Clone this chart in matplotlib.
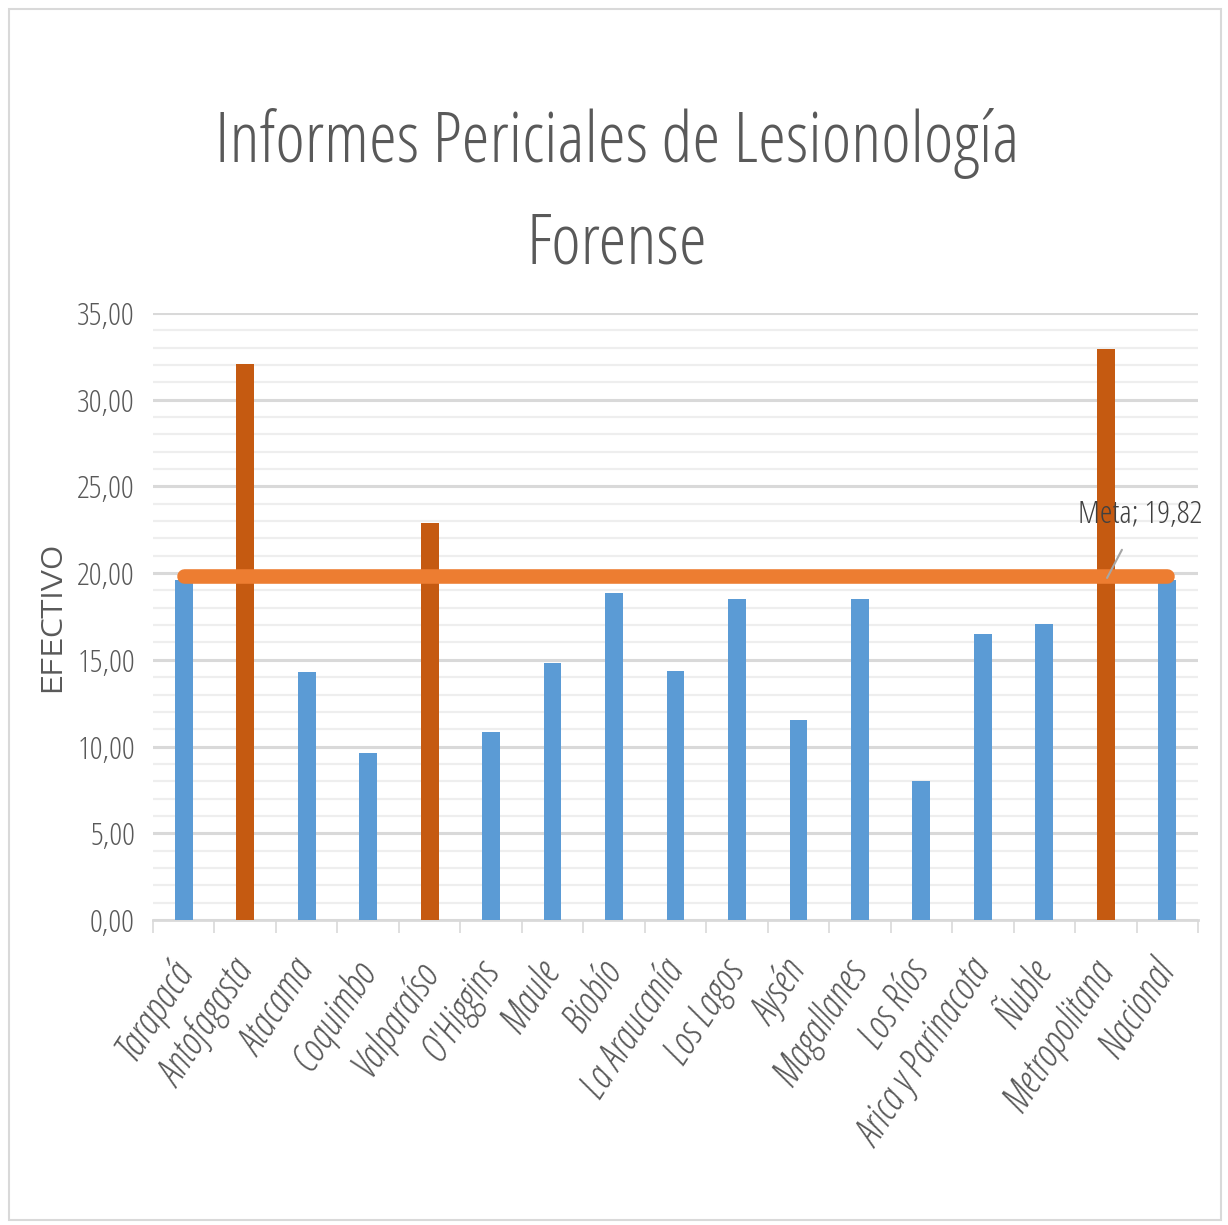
import matplotlib
matplotlib.use("Agg")
import matplotlib.pyplot as plt
from matplotlib.ticker import MultipleLocator, FixedLocator
from matplotlib.patches import Rectangle
import numpy as np

categories = ["Tarapacá", "Antofagasta", "Atacama", "Coquimbo", "Valparaíso", "O'Higgins",
              "Maule", "Biobío", "La Araucanía", "Los Lagos", "Aysén", "Magallanes",
              "Los Ríos", "Arica y Parinacota", "Ñuble", "Metropolitana", "Nacional"]
values = [19.6, 32.05, 14.3, 9.6, 22.9, 10.85, 14.8, 18.85, 14.35, 18.5, 11.55, 18.5,
          8.0, 16.5, 17.05, 32.9, 19.6]
meta_value = 19.82
yticks = [0, 5, 10, 15, 20, 25, 30, 35]
ytick_labels = ["0,00", "5,00", "10,00", "15,00", "20,00", "25,00", "30,00", "35,00"]

BLUE = "#5B9BD5"
DARK_ORANGE = "#C55A11"
ORANGE = "#ED7D31"
TEXT = "#595959"
COND = dict(family=["Open Sans", "DejaVu Sans"], stretch="condensed", weight=300)

fig = plt.figure(figsize=(12.28, 12.25), dpi=100)
fig.patch.set_facecolor("white")
fig.add_artist(Rectangle((0.007, 0.004), 0.987, 0.989, transform=fig.transFigure,
                         fill=False, edgecolor="#D9D9D9", linewidth=1.5))

ax = fig.add_axes([0.1246, 0.249, 0.851, 0.4955])
x = np.arange(len(categories))
colors = [DARK_ORANGE if v > meta_value else BLUE for v in values]
ax.bar(x, values, width=0.29, color=colors, zorder=3)
meta = [meta_value] * len(categories)
ax.plot(x, meta, color=ORANGE, linewidth=10.5, solid_capstyle="round", zorder=4)

ax.set_xlim(-0.5, len(categories) - 0.5)
ax.set_ylim(0, 35)
ax.yaxis.set_major_locator(FixedLocator(yticks))
ax.set_yticklabels(ytick_labels, fontsize=23, color=TEXT, **COND)
ax.yaxis.set_minor_locator(MultipleLocator(1))
ax.grid(which="major", axis="y", color="#D9D9D9", linewidth=2.2, zorder=0)
ax.grid(which="minor", axis="y", color="#EEEEEE", linewidth=1.6, zorder=0)
ax.tick_params(axis="y", which="both", length=0, pad=13)

ax.set_xticks(x)
ax.set_xticklabels(categories, rotation=57, ha="right", va="center", rotation_mode="anchor",
                   fontsize=29, color=TEXT, style="italic",
                   family=["Open Sans", "DejaVu Sans"], stretch="condensed", weight=300)
ax.xaxis.set_minor_locator(FixedLocator(np.arange(-0.5, len(categories), 1.0)))
ax.tick_params(axis="x", which="major", length=0, pad=32)
ax.tick_params(axis="x", which="minor", length=9, width=1.2, color="#D9D9D9")

for s in ["top", "right", "left"]:
    ax.spines[s].set_visible(False)
ax.spines["bottom"].set_color("#D9D9D9")
ax.spines["bottom"].set_linewidth(2)
ax.set_axisbelow(True)

ax.set_ylabel("EFECTIVO", fontsize=21, color=TEXT, labelpad=8,
              family=["Encode Sans Expanded", "DejaVu Sans"], weight=400)

fig.text(0.5025, 0.868, "Informes Periciales de Lesionología", ha="center", va="baseline",
         fontsize=51, color=TEXT, **COND)
fig.text(0.5025, 0.785, "Forense", ha="center", va="baseline",
         fontsize=51, color=TEXT, **COND)

ax.annotate("Meta; 19,82", xy=(15.02, 19.72), xytext=(15.56, 23.35),
            ha="center", va="center", fontsize=23, color="#404040",
            arrowprops=dict(arrowstyle="-", color="#A6A6A6", linewidth=1.5,
                            shrinkA=13, shrinkB=0), zorder=6, **COND)

fig.savefig("out.png", dpi=100)
